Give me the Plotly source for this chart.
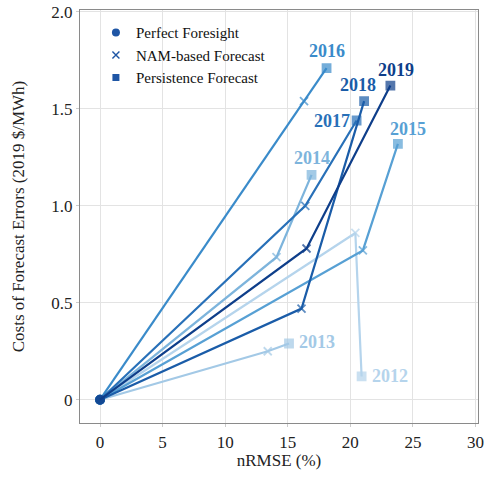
import plotly.graph_objects as go

years = [2012, 2013, 2014, 2015, 2016, 2017, 2018, 2019]
perfect_x = [0, 0, 0, 0, 0, 0, 0, 0]
perfect_y = [0, 0, 0, 0, 0, 0, 0, 0]
nam_x = [20.4, 13.4, 14.1, 21.0, 16.3, 16.4, 16.1, 16.5]
nam_y = [0.86, 0.25, 0.735, 0.77, 1.54, 1.0, 0.47, 0.78]
pers_x = [20.9, 15.1, 16.9, 23.8, 18.1, 20.5, 21.1, 23.2]
pers_y = [0.12, 0.29, 1.16, 1.32, 1.71, 1.44, 1.54, 1.62]

colors = ["#b5d4ec", "#a3c9e6", "#7db4dc", "#57a0d4", "#3a8bca", "#2870b8", "#1a5ca8", "#0e3e8a"]
# label offsets in pixels (xshift, yshift, xanchor)
label_pos = {
    2012: (8, 0, "left"),
    2013: (8, 2, "left"),
    2014: (0, 17, "center"),
    2015: (10, 15, "center"),
    2016: (0, 17, "center"),
    2017: (-5, 0, "right"),
    2018: (-6, 16, "center"),
    2019: (6, 16, "center"),
}

FONT = "Liberation Serif"
fig = go.Figure()

for i, yr in enumerate(years):
    c = colors[i]
    fig.add_trace(go.Scatter(
        x=[perfect_x[i], nam_x[i], pers_x[i]],
        y=[perfect_y[i], nam_y[i], pers_y[i]],
        mode="lines+markers",
        line=dict(color=c, width=2.2),
        marker=dict(symbol=["circle", "x-thin", "square"], size=[8, 8, 8],
                    color=c, line=dict(color=c, width=1.8)),
        showlegend=False, hoverinfo="skip",
    ))
    xs, ys, xa = label_pos[yr]
    fig.add_annotation(x=pers_x[i], y=pers_y[i], text="<b>%d</b>" % yr, showarrow=False,
                       xshift=xs, yshift=ys, xanchor=xa, yanchor="middle",
                       font=dict(family=FONT, size=18, color=c))

leg_color = "#1f56a5"
fig.add_trace(go.Scatter(x=[None], y=[None], mode="markers", name="Perfect Foresight",
                         marker=dict(symbol="circle", size=8, color=leg_color)))
fig.add_trace(go.Scatter(x=[None], y=[None], mode="markers", name="NAM-based Forecast",
                         marker=dict(symbol="x-thin", size=7, color=leg_color,
                                     line=dict(color=leg_color, width=1.4))))
fig.add_trace(go.Scatter(x=[None], y=[None], mode="markers", name="Persistence Forecast",
                         marker=dict(symbol="square", size=7, color=leg_color)))

axis_common = dict(showgrid=True, gridcolor="#e3e3e3", gridwidth=1.2, zeroline=False,
                   showline=True, linecolor="#8a8a8a", linewidth=1.2, mirror=True,
                   ticks="outside", ticklen=3, tickcolor="#cccccc", automargin=False,
                   tickfont=dict(family=FONT, size=17, color="#222"))

fig.update_layout(
    width=485, height=477,
    margin=dict(l=80, r=7, t=10, b=54),
    paper_bgcolor="white", plot_bgcolor="white",
    font=dict(family=FONT, color="#222"),
    legend=dict(x=0.04, y=0.985, xanchor="left", yanchor="top", bgcolor="rgba(0,0,0,0)",
                font=dict(family=FONT, size=15, color="#111"), itemwidth=30, tracegroupgap=0),
    xaxis=dict(range=[-1.6, 30.2], tickvals=[0, 5, 10, 15, 20, 25, 30],
               title=dict(text="nRMSE (%)", font=dict(family=FONT, size=17), standoff=2),
               **axis_common),
    yaxis=dict(range=[-0.12, 2.01], tickvals=[0, 0.5, 1.0, 1.5, 2.0],
               ticktext=["0", "0.5", "1.0", "1.5", "2.0"],
               title=dict(text="Costs of Forecast Errors (2019 $/MWh)", font=dict(family=FONT, size=17), standoff=22),
               **axis_common),
)

fig.write_html("out.html", config={"displayModeBar": False},
               post_script="document.body.style.margin='0';")
